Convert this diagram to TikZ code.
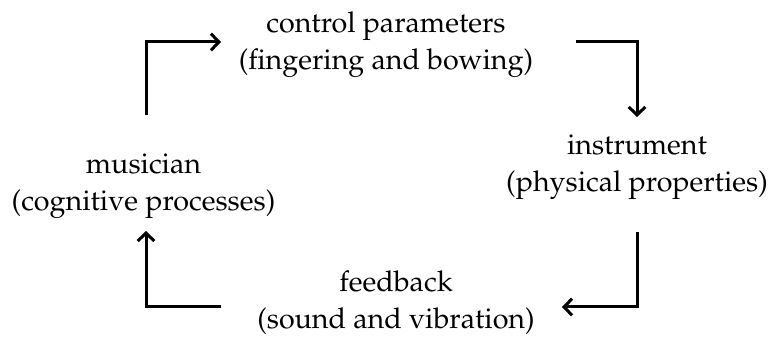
\documentclass[tikz,border=0pt]{standalone}
\usepackage[T1]{fontenc}
\usepackage{mathpazo}
\usetikzlibrary{arrows.meta}
\tikzset{
  label/.style={align=center, inner sep=0pt, anchor=base,
    font=\fontsize{21.5}{28}\selectfont},
  flow/.style={line width=2.25pt, line join=miter,
    -{Straight Barb[length=6pt, width=12.5pt, line width=2.25pt]}}
}
\begin{document}
\begin{tikzpicture}[x=0.75pt, y=-0.75pt]
  \useasboundingbox (0,0) rectangle (771,338);
  % the four stages of the loop
  \node[label] (ctrl) at (386,70) {control parameters\\(fingering and bowing)};
  \node[label] (inst) at (637,192) {instrument\\(physical properties)};
  \node[label] (fb)   at (396,329) {feedback\\(sound and vibration)};
  \node[label] (mus)  at (143.5,211) {musician\\(cognitive processes)};
  % corner points of the connectors
  \coordinate (a0) at (146,115);
  \coordinate (a1) at (146,42);
  \coordinate (a2) at (221,42);
  \coordinate (b0) at (576,42);
  \coordinate (b1) at (637,42);
  \coordinate (b2) at (637,117);
  \coordinate (c0) at (637,232);
  \coordinate (c1) at (637,307);
  \coordinate (c2) at (562,307);
  \coordinate (d0) at (221,307);
  \coordinate (d1) at (146,307);
  \coordinate (d2) at (146,231);
  \draw[flow] (a0) -- (a1) -- (a2);
  \draw[flow] (b0) -- (b1) -- (b2);
  \draw[flow] (c0) -- (c1) -- (c2);
  \draw[flow] (d0) -- (d1) -- (d2);
\end{tikzpicture}
\end{document}
